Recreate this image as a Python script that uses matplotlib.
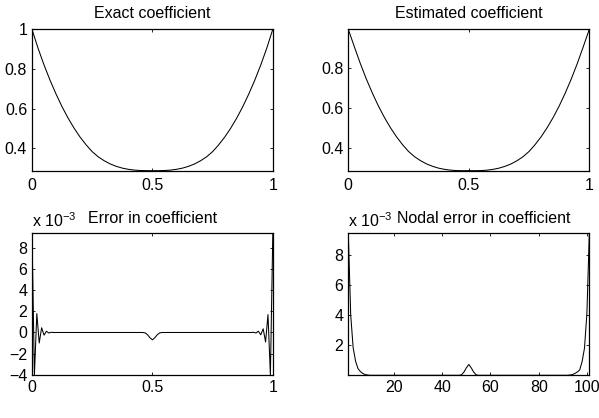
import numpy as np
import matplotlib
matplotlib.use('Agg')
import matplotlib.pyplot as plt

plt.rcParams['font.family'] = ['Liberation Sans', 'DejaVu Sans']
plt.rcParams['mathtext.fontset'] = 'custom'
plt.rcParams['mathtext.rm'] = 'Liberation Sans'
plt.rcParams['mathtext.it'] = 'Liberation Sans:italic'
plt.rcParams['mathtext.bf'] = 'Liberation Sans:bold'

# ---------------- data ----------------
exact_coef = [1.000, 0.905, 0.820, 0.743, 0.673, 0.609, 0.552, 0.501, 0.456, 0.417,
              0.383, 0.357, 0.337, 0.321, 0.309, 0.300, 0.294, 0.290, 0.288, 0.2872,
              0.2870,
              0.2872, 0.288, 0.290, 0.294, 0.300, 0.309, 0.321, 0.337, 0.357, 0.383,
              0.417, 0.456, 0.501, 0.552, 0.609, 0.673, 0.743, 0.820, 0.905, 1.000]
estimated_coef = [0.9906, 0.904, 0.820, 0.743, 0.673, 0.609, 0.552, 0.501, 0.456, 0.417,
                  0.383, 0.357, 0.337, 0.321, 0.309, 0.300, 0.294, 0.290, 0.288, 0.2874,
                  0.2877,
                  0.2874, 0.288, 0.290, 0.294, 0.300, 0.309, 0.321, 0.337, 0.357, 0.383,
                  0.417, 0.456, 0.501, 0.552, 0.609, 0.673, 0.743, 0.820, 0.904, 0.9906]

# error in coefficient at the 101 nodes (units of 1e-3)
coef_error = [9.43, -4.07, 1.80, -1.00, 0.45, -0.25, 0.12, -0.05, 0.02, 0.0,
              0.0, 0.0, 0.0, 0.0, 0.0, 0.0, 0.0, 0.0, 0.0, 0.0,
              0.0, 0.0, 0.0, 0.0, 0.0, 0.0, 0.0, 0.0, 0.0, 0.0,
              0.0, 0.0, 0.0, 0.0, 0.0, 0.0, 0.0, 0.0, 0.0, 0.0,
              0.0, 0.0, 0.0, 0.0, 0.0, 0.0, 0.0, -0.04, -0.22, -0.50,
              -0.70,
              -0.50, -0.22, -0.04, 0.0, 0.0, 0.0, 0.0, 0.0, 0.0, 0.0,
              0.0, 0.0, 0.0, 0.0, 0.0, 0.0, 0.0, 0.0, 0.0, 0.0,
              0.0, 0.0, 0.0, 0.0, 0.0, 0.0, 0.0, 0.0, 0.0, 0.0,
              0.0, 0.0, 0.0, 0.0, 0.0, 0.0, 0.0, 0.0, 0.0, 0.0,
              0.0, 0.02, -0.05, 0.12, -0.22, 0.35, -0.90, 1.70, -4.07, 9.40]

# nodal error (units of 1e-3), nodes 1..101
nodal_error = [9.43, 4.00, 1.85, 0.95, 0.45, 0.25, 0.12, 0.05, 0.02, 0.0,
               0.0, 0.0, 0.0, 0.0, 0.0, 0.0, 0.0, 0.0, 0.0, 0.0,
               0.0, 0.0, 0.0, 0.0, 0.0, 0.0, 0.0, 0.0, 0.0, 0.0,
               0.0, 0.0, 0.0, 0.0, 0.0, 0.0, 0.0, 0.0, 0.0, 0.0,
               0.0, 0.0, 0.0, 0.0, 0.0, 0.0, 0.0, 0.04, 0.22, 0.50,
               0.72,
               0.50, 0.22, 0.04, 0.0, 0.0, 0.0, 0.0, 0.0, 0.0, 0.0,
               0.0, 0.0, 0.0, 0.0, 0.0, 0.0, 0.0, 0.0, 0.0, 0.0,
               0.0, 0.0, 0.0, 0.0, 0.0, 0.0, 0.0, 0.0, 0.0, 0.0,
               0.0, 0.0, 0.0, 0.0, 0.0, 0.0, 0.0, 0.0, 0.0, 0.0,
               0.0, 0.02, 0.05, 0.12, 0.22, 0.35, 0.90, 1.80, 4.10, 9.40]

titles = ['Exact coefficient', 'Estimated coefficient',
          'Error in coefficient', 'Nodal error in coefficient']
coef_xticks = [0, 0.5, 1]
top_left_yticks = [0.4, 0.6, 0.8, 1]
top_right_yticks = [0.4, 0.6, 0.8]
err_yticks = [-4, -2, 0, 2, 4, 6, 8]
nodal_xticks = [20, 40, 60, 80, 100]
nodal_yticks = [2, 4, 6, 8]

coef_x = np.linspace(0, 1, len(exact_coef))
node_x = np.linspace(0, 1, len(coef_error))
node_idx = np.arange(1, len(nodal_error) + 1)

# ---------------- figure ----------------
W, H = 599, 418
fig = plt.figure(figsize=(W / 100, H / 100), dpi=100)

def box(l, t, r, b):
    return [l / W, 1 - b / H, (r - l) / W, (b - t) / H]

ax1 = fig.add_axes(box(32, 29.3, 272.8, 170.7))
ax2 = fig.add_axes(box(348.3, 29.3, 589.3, 170.7))
ax3 = fig.add_axes(box(32, 233.3, 272.8, 375.3))
ax4 = fig.add_axes(box(348.3, 233.3, 589.3, 375.3))

FS = 11.5
LW = 0.75
for ax in (ax1, ax2, ax3, ax4):
    ax.tick_params(direction='in', top=True, right=True, length=2.2, width=0.6,
                   labelsize=FS, pad=3.5, colors='black')
    for s in ax.spines.values():
        s.set_linewidth(0.9)
        s.set_color('black')

for ax in (ax1, ax2):
    ax.tick_params(axis='x', pad=5.5)
for ax in (ax3, ax4):
    ax.tick_params(axis='x', pad=3.5)

ax1.plot(coef_x, exact_coef, color='black', lw=LW)
ax1.set_xlim(0, 1)
ax1.set_ylim(min(exact_coef), max(exact_coef))
ax1.set_xticks(coef_xticks)
ax1.set_xticklabels(['0', '0.5', '1'])
ax1.set_yticks(top_left_yticks)
ax1.set_yticklabels(['0.4', '0.6', '0.8', '1'])
ax1.set_title(titles[0], fontsize=FS, pad=8)

ax2.plot(coef_x, estimated_coef, color='black', lw=LW)
ax2.set_xlim(0, 1)
ax2.set_ylim(min(estimated_coef), max(estimated_coef))
ax2.set_xticks(coef_xticks)
ax2.set_xticklabels(['0', '0.5', '1'])
ax2.set_yticks(top_right_yticks)
ax2.set_yticklabels(['0.4', '0.6', '0.8'])
ax2.set_title(titles[1], fontsize=FS, pad=8)

ax3.plot(node_x, coef_error, color='black', lw=LW)
ax3.set_xlim(0, 1)
ax3.set_ylim(min(coef_error), max(coef_error))
ax3.set_xticks(coef_xticks)
ax3.set_xticklabels(['0', '0.5', '1'])
ax3.set_yticks(err_yticks)
ax3.set_yticklabels(['\u22124', '\u22122', '0', '2', '4', '6', '8'])
ax3.set_title(titles[2], fontsize=FS, pad=7.5)
ax3.text(0.0, 1.045, 'x 10$^{\\mathregular{-3}}$', transform=ax3.transAxes,
         fontsize=FS, ha='left', va='baseline')

ax4.plot(node_idx, nodal_error, color='black', lw=LW)
ax4.set_xlim(1, len(nodal_error))
ax4.set_ylim(0, max(nodal_error))
ax4.set_xticks(nodal_xticks)
ax4.set_yticks(nodal_yticks)
ax4.text(0.56, 1.075, titles[3], transform=ax4.transAxes,
         fontsize=FS, ha='center', va='baseline')
ax4.text(0.0, 1.045, 'x 10$^{\\mathregular{-3}}$', transform=ax4.transAxes,
         fontsize=FS, ha='left', va='baseline')

fig.savefig('out.png', dpi=100)
